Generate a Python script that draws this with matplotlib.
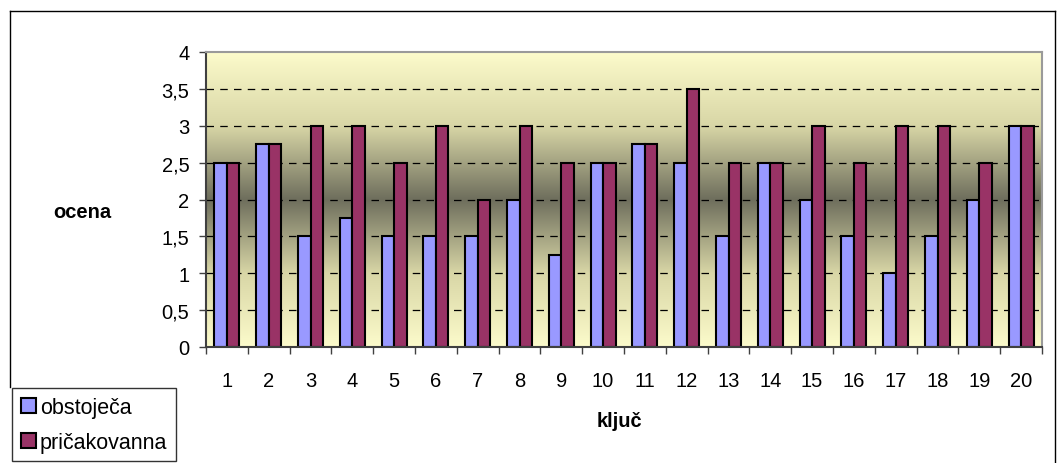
import numpy as np
import matplotlib
matplotlib.use("Agg")
import matplotlib.pyplot as plt
from matplotlib.colors import LinearSegmentedColormap
from matplotlib.lines import Line2D

categories = [str(i) for i in range(1, 21)]
obstojeca = [2.5, 2.75, 1.5, 1.75, 1.5, 1.5, 1.5, 2, 1.25, 2.5, 2.75, 2.5, 1.5, 2.5, 2, 1.5, 1, 1.5, 2, 3]
pricakovana = [2.5, 2.75, 3, 3, 2.5, 3, 2, 3, 2.5, 2.5, 2.75, 3.5, 2.5, 2.5, 3, 2.5, 3, 3, 2.5, 3]
yticks = [0, 0.5, 1, 1.5, 2, 2.5, 3, 3.5, 4]
ytick_labels = ["0", "0,5", "1", "1,5", "2", "2,5", "3", "3,5", "4"]

plt.rcParams['font.family'] = ['Liberation Sans', 'DejaVu Sans']

W, H = 1058, 464
fig = plt.figure(figsize=(W / 100, H / 100), dpi=100)
ax = fig.add_axes([206 / W, 1 - 348 / H, (1042 - 206) / W, (348 - 53) / H])

n = len(categories)
x = np.arange(n)
bw = 0.3

# gradient background
cmap = LinearSegmentedColormap.from_list("g", ["#FCFBCB", "#D8D6A6", "#6E6E5C", "#D8D6A6", "#FCFBCB"])
grad = np.linspace(0, 1, 256).reshape(-1, 1)
ax.imshow(grad, cmap=cmap, aspect='auto', extent=(-0.5, n - 0.5, 0, 4), zorder=0, interpolation='bicubic')

ax.set_xlim(-0.5, n - 0.5)
ax.set_ylim(0, 4)

for yv in yticks[1:-1]:
    ax.axhline(yv, color='black', lw=0.9, dashes=(6, 5), zorder=1)

ax.bar(x - bw / 2, obstojeca, bw, color='#9999FF', edgecolor='black', lw=1.5, zorder=2, label='obstoječa')
ax.bar(x + bw / 2, pricakovana, bw, color='#993366', edgecolor='black', lw=1.5, zorder=2, label='pričakovanna')

fs = 14.5
ax.set_yticks(yticks)
ax.set_yticklabels(ytick_labels, fontsize=fs)
ax.set_xticks(x)
ax.set_xticklabels(categories, fontsize=fs)
ax.set_xticks(np.arange(n + 1) - 0.5, minor=True)
ax.tick_params(axis='x', which='major', length=0, pad=17)
ax.tick_params(axis='x', which='minor', length=5, width=1, color='#404040')
ax.tick_params(axis='y', length=5, width=1, color='#404040', pad=7)

for s in ['top', 'right']:
    ax.spines[s].set_color('#9a9a9a')
    ax.spines[s].set_linewidth(1.5)
for s in ['left', 'bottom']:
    ax.spines[s].set_color('#404040')
    ax.spines[s].set_linewidth(1.5)

fig.text(82 / W, 1 - 213 / H, "ocena", fontsize=fs, fontweight='bold', ha='center', va='center')
fig.text(619 / W, 1 - 422 / H, "ključ", fontsize=fs, fontweight='bold', ha='center', va='center')

# outer border
fig.add_artist(Line2D([10 / W, 10 / W], [1 - 12 / H, 1 - 388 / H], transform=fig.transFigure, color='black', lw=1))
fig.add_artist(Line2D([10 / W, 1055 / W], [1 - 12 / H, 1 - 12 / H], transform=fig.transFigure, color='black', lw=1))
fig.add_artist(Line2D([1055 / W, 1055 / W], [1 - 12 / H, 0], transform=fig.transFigure, color='black', lw=1))

leg = fig.legend(loc='upper left', bbox_to_anchor=(12 / W, 1 - 389 / H), fontsize=15.5,
                 frameon=True, fancybox=False, edgecolor='black', handlelength=0.7, handleheight=0.7,
                 handletextpad=0.2, labelspacing=0.65, borderpad=0.4, borderaxespad=0)
leg.get_frame().set_linewidth(1)

fig.savefig("out.png", dpi=100)
